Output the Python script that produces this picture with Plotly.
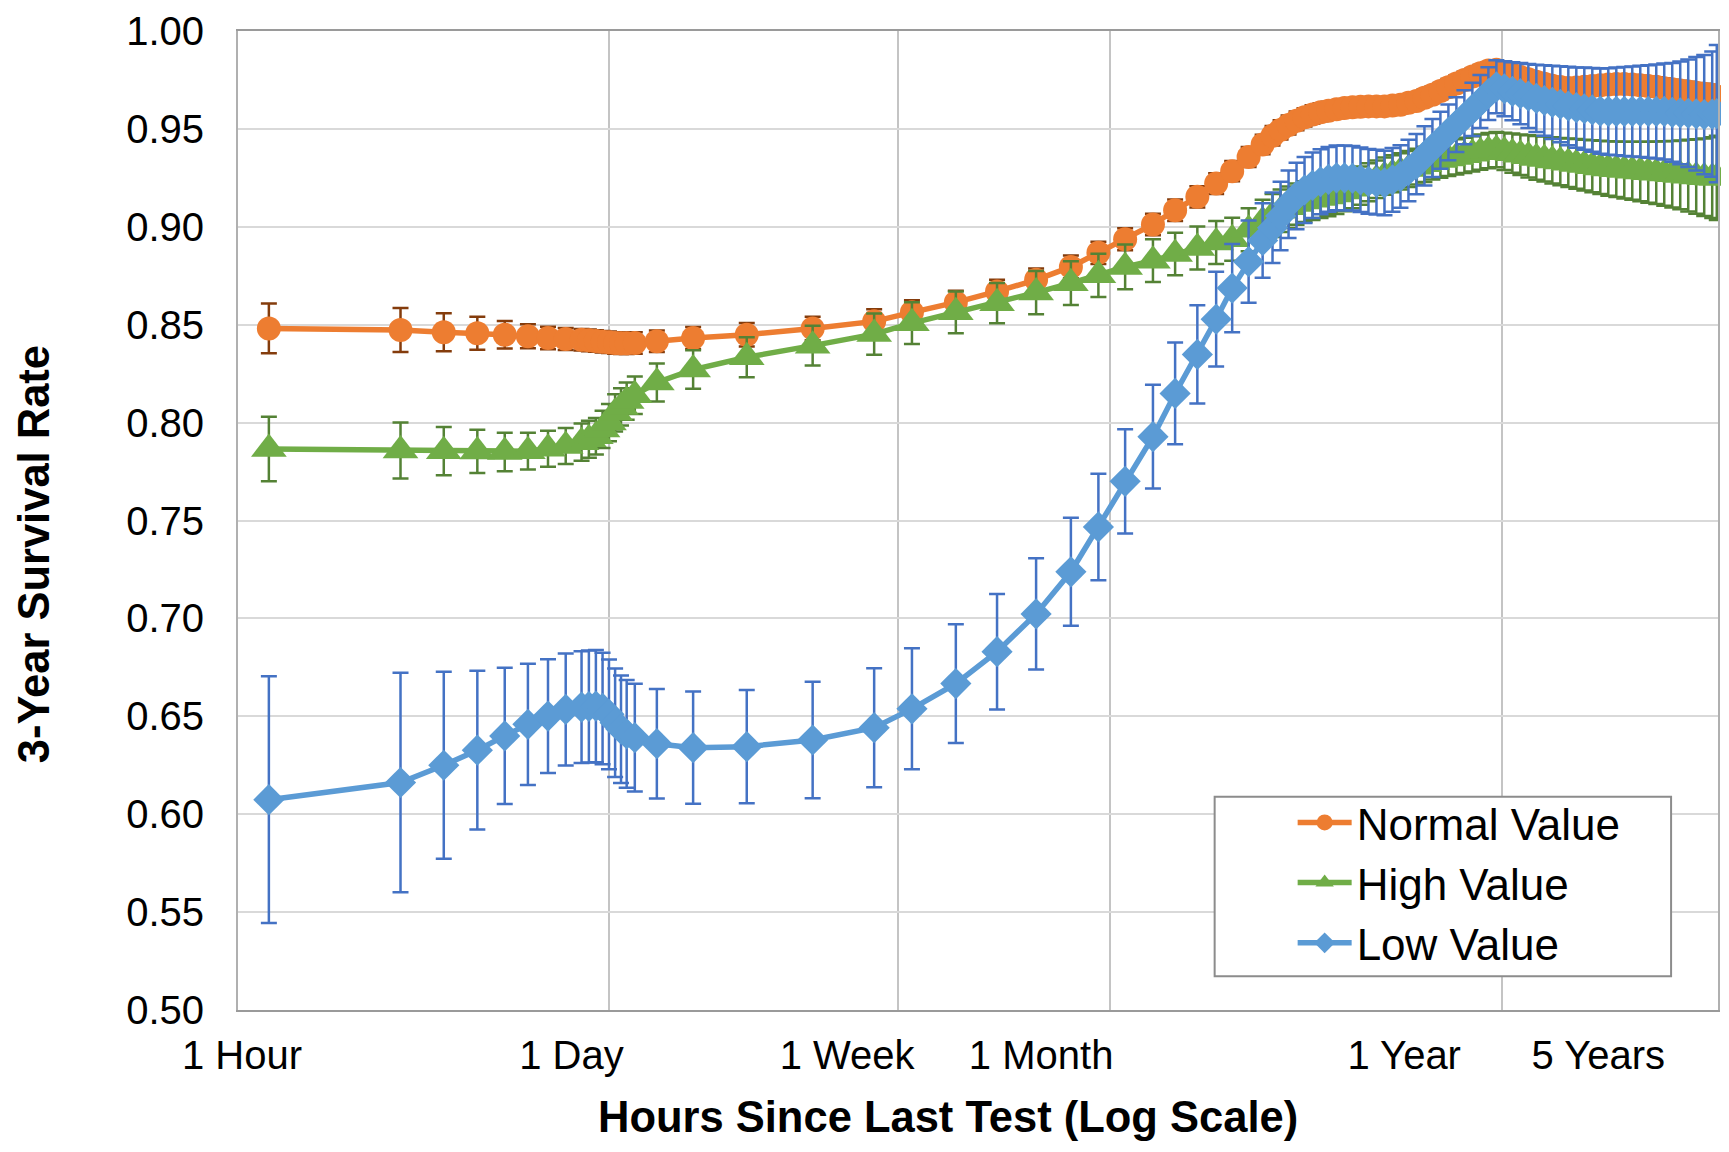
import numpy as np
import plotly.graph_objects as go

# ---------------- data ----------------
HOURS = [2.5, 6, 8, 10, 12, 14, 16, 18, 20, 21, 22, 23, 24, 25, 26, 27, 28.5, 33, 42,
         60, 93, 140, 180, 241, 317, 411, 518, 622, 743, 894, 1036, 1201, 1361, 1514, 1689, 1854,
         1980, 2089, 2203, 2323, 2450, 2584, 2725, 2873, 3030, 3196, 3370, 3554, 3748, 3953,
         4169, 4397, 4637, 4890, 5157, 5438, 5735, 6048, 6378, 6727, 7094, 7481, 7890, 8320,
         8775, 9254, 9759, 10292, 10854, 11446, 12071, 12730, 13425, 14158, 14931, 15747,
         16606, 17513, 18469, 19478, 20541, 21663, 22845, 24093, 25408, 26795, 28258, 29801,
         31428, 33144, 34953, 36862, 38000]

NORMAL = [0.8481, 0.8473, 0.8461, 0.8456, 0.8449, 0.8441, 0.8432, 0.8427, 0.8423, 0.8420,
          0.8417, 0.8413, 0.8410, 0.8407, 0.8405, 0.8405, 0.8407, 0.8415, 0.8432,
          0.8449, 0.8481, 0.8517, 0.8563, 0.8614, 0.8670, 0.8729, 0.8795, 0.8867, 0.8936,
          0.9012, 0.9085, 0.9153, 0.9221, 0.9284, 0.9357, 0.9420,
          0.9465, 0.9495, 0.9520, 0.9541, 0.9559, 0.9574, 0.9585, 0.9593, 0.9600, 0.9607,
          0.9611, 0.9613, 0.9615, 0.9615, 0.9615, 0.9619, 0.9623, 0.9633, 0.9643, 0.9659,
          0.9674, 0.9693, 0.9713, 0.9732, 0.9750, 0.9767, 0.9784, 0.9798, 0.9802, 0.9790,
          0.9778, 0.9765, 0.9753, 0.9741, 0.9731, 0.9720, 0.9714, 0.9709, 0.9711, 0.9715,
          0.9719, 0.9723, 0.9727, 0.9729, 0.9729, 0.9727, 0.9723, 0.9719, 0.9715, 0.9708,
          0.9702, 0.9696, 0.9691, 0.9685, 0.9679, 0.9674, 0.9666]
NORMAL_ERR = [0.0127, 0.0112, 0.0097, 0.0084, 0.0070, 0.0061, 0.0058, 0.0056, 0.0055, 0.0055,
              0.0055, 0.0055, 0.0055, 0.0055, 0.0055, 0.0055, 0.0055, 0.0055, 0.0056,
              0.0060, 0.0060, 0.0062, 0.0062, 0.0060, 0.0060, 0.0058, 0.0058, 0.0057, 0.0056,
              0.0055, 0.0055, 0.0054, 0.0053, 0.0052, 0.0051, 0.0050,
              0.0050, 0.0049, 0.0048, 0.0048, 0.0047, 0.0047, 0.0046, 0.0046, 0.0045, 0.0045,
              0.0045, 0.0044, 0.0044, 0.0044, 0.0043, 0.0043, 0.0043, 0.0042, 0.0042, 0.0042,
              0.0042, 0.0042, 0.0042, 0.0042, 0.0042, 0.0042, 0.0042, 0.0042, 0.0042, 0.0042,
              0.0043, 0.0043, 0.0043, 0.0044, 0.0044, 0.0044, 0.0045, 0.0045, 0.0045, 0.0046,
              0.0046, 0.0046, 0.0047, 0.0047, 0.0047, 0.0048, 0.0048, 0.0048, 0.0049, 0.0049,
              0.0049, 0.0050, 0.0050, 0.0050, 0.0051, 0.0051, 0.0052]

HIGH = [0.7865, 0.7857, 0.7854, 0.7853, 0.7850, 0.7854, 0.7866, 0.7880, 0.7900, 0.7915,
        0.7930, 0.7965, 0.8000, 0.8050, 0.8080, 0.8110, 0.8140, 0.8205, 0.8271,
        0.8334, 0.8393, 0.8452, 0.8508, 0.8563, 0.8610, 0.8664, 0.8712, 0.8752, 0.8795,
        0.8827, 0.8861, 0.8892, 0.8920, 0.8936, 0.8985, 0.9028,
        0.9058, 0.9082, 0.9100, 0.9116, 0.9129, 0.9138, 0.9147, 0.9155, 0.9165, 0.9180,
        0.9194, 0.9210, 0.9227, 0.9243, 0.9259, 0.9271, 0.9283, 0.9295, 0.9307, 0.9319,
        0.9331, 0.9341, 0.9349, 0.9357, 0.9365, 0.9373, 0.9381, 0.9389, 0.9394, 0.9385,
        0.9376, 0.9368, 0.9360, 0.9352, 0.9346, 0.9339, 0.9333, 0.9327, 0.9321, 0.9315,
        0.9309, 0.9303, 0.9298, 0.9294, 0.9290, 0.9286, 0.9282, 0.9279, 0.9276, 0.9272,
        0.9268, 0.9265, 0.9261, 0.9257, 0.9253, 0.9251, 0.9250]
HIGH_ERR = [0.0165, 0.0143, 0.0123, 0.0110, 0.0098, 0.0094, 0.0092, 0.0092, 0.0095, 0.0095,
            0.0093, 0.0095, 0.0095, 0.0095, 0.0095, 0.0095, 0.0096, 0.0097, 0.0098,
            0.0102, 0.0102, 0.0105, 0.0107, 0.0107, 0.0103, 0.0110, 0.0112, 0.0110, 0.0114,
            0.0109, 0.0109, 0.0110, 0.0110, 0.0110, 0.0110, 0.0110,
            0.0110, 0.0108, 0.0106, 0.0105, 0.0104, 0.0103, 0.0102, 0.0101, 0.0100, 0.0100,
            0.0099, 0.0098, 0.0097, 0.0096, 0.0095, 0.0094, 0.0093, 0.0092, 0.0091, 0.0090,
            0.0090, 0.0090, 0.0090, 0.0090, 0.0090, 0.0090, 0.0090, 0.0090, 0.0090, 0.0095,
            0.0100, 0.0104, 0.0108, 0.0112, 0.0115, 0.0118, 0.0121, 0.0124, 0.0127, 0.0130,
            0.0133, 0.0136, 0.0139, 0.0142, 0.0145, 0.0148, 0.0152, 0.0156, 0.0160, 0.0165,
            0.0170, 0.0176, 0.0183, 0.0190, 0.0198, 0.0206, 0.0215]

LOW = [0.6074, 0.6162, 0.6250, 0.6327, 0.6400, 0.6459, 0.6501, 0.6535, 0.6547, 0.6550,
       0.6552, 0.6540, 0.6510, 0.6467, 0.6434, 0.6410, 0.6391, 0.6360, 0.6340,
       0.6345, 0.6379, 0.6442, 0.6538, 0.6667, 0.6830, 0.7023, 0.7238, 0.7467, 0.7700,
       0.7928, 0.8149, 0.8348, 0.8528, 0.8687, 0.8822, 0.8930,
       0.8995, 0.9055, 0.9115, 0.9157, 0.9188, 0.9212, 0.9230, 0.9242, 0.9250, 0.9250,
       0.9248, 0.9240, 0.9232, 0.9228, 0.9224, 0.9240, 0.9257, 0.9288, 0.9320, 0.9362,
       0.9402, 0.9442, 0.9482, 0.9522, 0.9560, 0.9600, 0.9640, 0.9680, 0.9715, 0.9705,
       0.9692, 0.9680, 0.9668, 0.9656, 0.9645, 0.9635, 0.9626, 0.9617, 0.9609, 0.9603,
       0.9597, 0.9591, 0.9589, 0.9589, 0.9589, 0.9589, 0.9589, 0.9589, 0.9589, 0.9589,
       0.9584, 0.9582, 0.9580, 0.9577, 0.9573, 0.9575, 0.9578]
LOW_ERR = [0.0630, 0.0560, 0.0477, 0.0405, 0.0348, 0.0310, 0.0291, 0.0286, 0.0285, 0.0286,
           0.0287, 0.0285, 0.0280, 0.0277, 0.0275, 0.0275, 0.0275, 0.0280, 0.0287,
           0.0289, 0.0298, 0.0304, 0.0309, 0.0303, 0.0295, 0.0284, 0.0276, 0.0272, 0.0266,
           0.0265, 0.0260, 0.0251, 0.0242, 0.0225, 0.0210, 0.0190,
           0.0180, 0.0175, 0.0172, 0.0170, 0.0168, 0.0167, 0.0166, 0.0165, 0.0165, 0.0165,
           0.0165, 0.0165, 0.0165, 0.0165, 0.0165, 0.0163, 0.0160, 0.0157, 0.0154, 0.0151,
           0.0148, 0.0145, 0.0142, 0.0140, 0.0138, 0.0136, 0.0135, 0.0135, 0.0135, 0.0140,
           0.0148, 0.0156, 0.0164, 0.0172, 0.0180, 0.0187, 0.0194, 0.0200, 0.0205, 0.0210,
           0.0214, 0.0218, 0.0221, 0.0224, 0.0227, 0.0230, 0.0233, 0.0236, 0.0240, 0.0245,
           0.0252, 0.0262, 0.0275, 0.0290, 0.0305, 0.0320, 0.0350]

SERIES_NAMES = ["Normal Value", "High Value", "Low Value"]

# axis furniture
X_RANGE_HOURS = [2.036, 38310]
GRID_HOURS = [24, 164.4, 672.8, 9088]
LABEL_HOURS = [2.09, 18.7, 117, 425, 4754, 17277]
LABEL_TEXT = ["1 Hour", "1 Day", "1 Week", "1 Month", "1 Year", "5 Years"]
Y_TICKS = [0.50, 0.55, 0.60, 0.65, 0.70, 0.75, 0.80, 0.85, 0.90, 0.95, 1.00]

FONT = "Liberation Sans, Arial, sans-serif"

styles = [
    dict(color="#ED7D31", err="#843C0C", symbol="circle", size=24),
    dict(color="#70AD47", err="#548235", symbol="triangle-up", size=31),
    dict(color="#5B9BD5", err="#4472C4", symbol="diamond", size=24),
]

fig = go.Figure()
for name, ys, es, st in zip(SERIES_NAMES, [NORMAL, HIGH, LOW],
                            [NORMAL_ERR, HIGH_ERR, LOW_ERR], styles):
    fig.add_trace(go.Scatter(
        x=HOURS, y=ys, name=name, mode="lines+markers",
        line=dict(color=st["color"], width=5.5),
        marker=dict(symbol=st["symbol"], size=st["size"], color=st["color"]),
        error_y=dict(type="data", array=es, visible=True, color=st["err"],
                     thickness=2.5, width=8),
        cliponaxis=False,
    ))

xr = [np.log10(X_RANGE_HOURS[0]), np.log10(X_RANGE_HOURS[1])]

# The page body has an 8 px margin; the figure is sized so the page fits the window.
fig.update_layout(
    width=1713, height=1136,
    margin=dict(l=230, r=1, t=20, b=134),
    paper_bgcolor="white", plot_bgcolor="white",
    font=dict(family=FONT, color="black"),
    showlegend=True,
    legend=dict(x=0.7126, y=0.2275, xanchor="left", yanchor="top",
                bgcolor="rgba(0,0,0,0)", borderwidth=0,
                font=dict(size=44, family=FONT, color="black"),
                itemwidth=54, tracegroupgap=0),
    shapes=[dict(type="rect", xref="paper", yref="paper",
                 x0=0.6599, x1=0.9683, y0=0.0346, y1=0.2178,
                 line=dict(color="#8c8c8c", width=2), fillcolor="white",
                 layer="above")],
    xaxis=dict(type="log", range=xr, tickvals=GRID_HOURS, showticklabels=False,
               ticks="", showgrid=True, gridcolor="#c4c4c4", gridwidth=1.5,
               showline=True, linecolor="#9a9a9a", linewidth=2, mirror=True,
               zeroline=False),
    xaxis2=dict(type="log", range=xr, overlaying="x", anchor="y", side="bottom",
                tickvals=LABEL_HOURS, ticktext=LABEL_TEXT, showgrid=False,
                showline=False, ticks="", zeroline=False, ticklabelstandoff=18,
                ticklabeloverflow="allow",
                tickfont=dict(size=40, family=FONT, color="black")),
    yaxis=dict(range=[0.5, 1.0], tickvals=Y_TICKS, tickformat=".2f",
               showgrid=True, gridcolor="#d9d9d9", gridwidth=2,
               showline=True, linecolor="#b0b0b0", linewidth=2, mirror=True,
               zeroline=False, ticks="", ticklabelstandoff=24,
               ticklabeloverflow="allow",
               tickfont=dict(size=40, family=FONT, color="black")),
    annotations=[
        dict(text="<b>3-Year Survival Rate</b>", xref="paper", yref="paper",
             x=-0.1377, y=0.4657, xanchor="center", yanchor="middle",
             textangle=-90, showarrow=False,
             font=dict(size=43.5, family=FONT, color="black")),
        dict(text="<b>Hours Since Last Test (Log Scale)</b>", xref="paper", yref="paper",
             x=0.4798, y=-0.109, xanchor="center", yanchor="middle",
             showarrow=False, font=dict(size=43.5, family=FONT, color="black")),
    ],
)
# empty trace to activate the label axis
fig.add_trace(go.Scatter(x=[LABEL_HOURS[0]], y=[None], xaxis="x2", showlegend=False,
                         hoverinfo="skip"))

fig.write_html("out.html")
